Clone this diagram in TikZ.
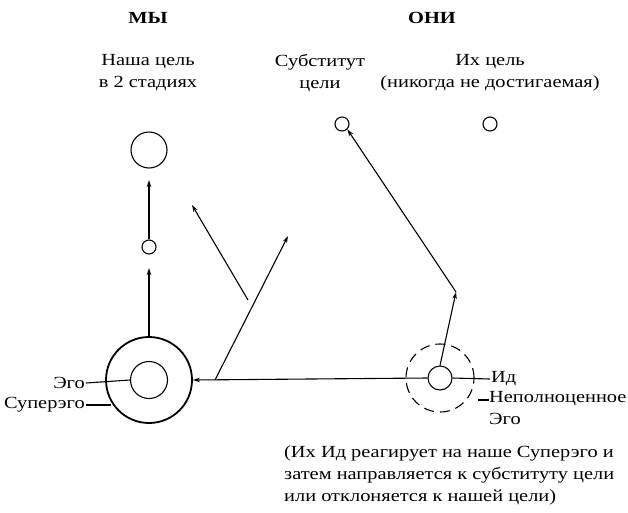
\documentclass[tikz,border=0pt]{standalone}
\usepackage{fontspec}
\setmainfont{Liberation Serif}[FakeStretch=1.2]
\usetikzlibrary{arrows.meta}
\tikzset{
  ring/.style={circle,draw,line width=1.1pt,inner sep=0pt},
  goal/.style={-{Stealth[length=7pt,width=4.5pt]},line width=1.1pt},
  lbl/.style={font=\fontsize{17}{22}\selectfont,align=center,inner sep=1pt},
}
\begin{document}
\begin{tikzpicture}[x=1pt,y=-1pt]
      \useasboundingbox (0,0) rectangle (628,512);
      % headings
      \node[lbl,font=\fontsize{17}{22}\selectfont\bfseries] (we) at (148,18) {МЫ};
      \node[lbl,font=\fontsize{17}{22}\selectfont\bfseries] (they) at (432,18) {ОНИ};
      \node[lbl] (ourgoal) at (148,73) {Наша цель\\в 2 стадиях};
      \node[lbl] (subst) at (320,73) {Субститут\\цели};
      \node[lbl] (theirgoal) at (490,73) {Их цель\\(никогда не достигаемая)};
      % circles
      \node[ring,minimum size=86pt,line width=1.8pt] (super) at (149,380) {};
      \node[ring,minimum size=37pt] (ego) at (149,380) {};
      \node[ring,minimum size=14pt] (step1) at (149,247) {};
      \node[ring,minimum size=36pt] (step2) at (149,150) {};
      \node[ring,minimum size=14pt] (sub) at (342,124) {};
      \node[ring,minimum size=14pt] (their) at (490,124) {};
      \node[ring,minimum size=24pt] (id) at (440,378) {};
      \node[circle,draw,line width=1.1pt,dash pattern=on 10pt off 6pt,minimum size=68pt] (weak) at (440,378) {};
      % connectors
      \draw[goal] (super.north) -- (149,268);
      \draw[goal] (step1.north) -- (149,180);
      \draw[goal] (id.west) -- (super.east);
      \coordinate (fork) at (215,380);
      \coordinate (mid) at (248,300);
      \coordinate (turn) at (456,292);
      \draw[goal] (fork) -- (288,236);
      \draw[goal] (mid) -- (192,205);
      \draw[goal] (id.north) -- (turn);
      \draw[goal] (turn) -- (sub.south east);
      % labels
      \node[lbl,anchor=east] (egolbl) at (86,383) {Эго};
      \node[lbl,anchor=east] (superlbl) at (86,405) {Суперэго};
      \draw[line width=1.1pt] (egolbl.east) -- (ego.west);
      \draw[line width=1.1pt] (superlbl.east) -- (111,405);
      \node[lbl,anchor=west] (idlbl) at (490,379) {Ид};
      \draw[line width=1.1pt] (id.east) -- (idlbl.west);
      \node[lbl,anchor=north west,align=left] (weaklbl) at (488,390) {Неполноценное\\Эго};
      \draw[line width=1.1pt] (478,400) -- (489,400);
      \node[lbl,anchor=north west,align=left] (note) at (283,444) {(Их Ид реагирует на наше Суперэго и\\затем направляется к субституту цели\\или отклоняется к нашей цели)};
\end{tikzpicture}
\end{document}
